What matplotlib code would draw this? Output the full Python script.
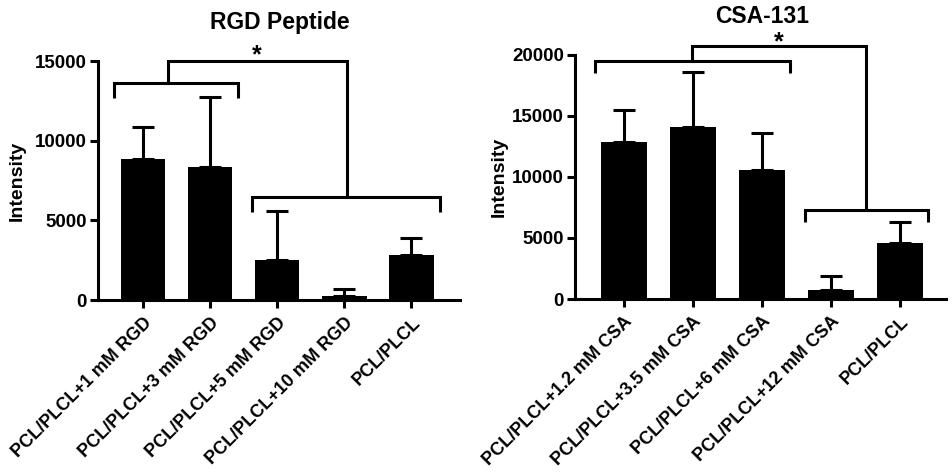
import matplotlib.pyplot as plt
import numpy as np

plt.rcParams['font.family'] = ['Liberation Sans', 'DejaVu Sans']
plt.rcParams['font.weight'] = 'bold'

rgd_labels = ["PCL/PLCL+1 mM RGD", "PCL/PLCL+3 mM RGD", "PCL/PLCL+5 mM RGD",
              "PCL/PLCL+10 mM RGD", "PCL/PLCL"]
rgd_mean = [8850, 8330, 2510, 270, 2825]
rgd_err = [2030, 4430, 3100, 400, 1045]

csa_labels = ["PCL/PLCL+1.2 mM CSA", "PCL/PLCL+3.5 mM CSA", "PCL/PLCL+6 mM CSA",
              "PCL/PLCL+12 mM CSA", "PCL/PLCL"]
csa_mean = [12870, 14090, 10560, 760, 4620]
csa_err = [2580, 4470, 3040, 1120, 1720]

fig = plt.figure(figsize=(9.52, 4.74), dpi=100)
LW = 2.2


def bracket(ax, x0, x1, y, leg):
    ax.plot([x0, x0, x1, x1], [y - leg, y, y, y - leg], color='black', lw=LW,
            clip_on=False, solid_capstyle='butt', solid_joinstyle='miter')


def panel(rect, labels, mean, err, ymax, step):
    ax = fig.add_axes(rect)
    x = np.arange(len(labels))
    ax.bar(x, mean, width=0.66, color='black')
    ax.errorbar(x, mean, yerr=[np.zeros(len(err)), err], fmt='none',
                ecolor='black', elinewidth=LW, capsize=8, capthick=LW)
    ax.set_ylim(0, ymax)
    ax.set_yticks(np.arange(0, ymax + 1, step))
    ax.set_xticks(x)
    ax.set_xticklabels(labels, rotation=45, ha='right', rotation_mode='anchor',
                       fontsize=13, fontweight='bold')
    ax.tick_params(axis='both', width=LW, length=6, labelsize=13.5)
    ax.tick_params(axis='x', pad=4, labelsize=13)
    ax.tick_params(axis='y', pad=2)
    for s in ['top', 'right']:
        ax.spines[s].set_visible(False)
    for s in ['left', 'bottom']:
        ax.spines[s].set_linewidth(LW)
    ax.set_ylabel("Intensity", fontsize=14, fontweight='bold')
    return ax


ax1 = panel([0.103, 0.367, 0.380, 0.504], rgd_labels, rgd_mean, rgd_err, 15000, 5000)
ax1.set_xlim(-0.67, 4.72)
ax1.yaxis.set_label_coords(-0.20, 0.5)
bracket(ax1, -0.43, 1.42, 13640, 940)
bracket(ax1, 1.63, 4.42, 6450, 930)
ax1.plot([0.37, 0.37, 3.04, 3.04], [13640, 15040, 15040, 6450], color='black',
         lw=LW, clip_on=False, solid_joinstyle='miter')
ax1.text(1.70, 14940, "*", ha='center', va='baseline', fontsize=18, fontweight='bold')
fig.text(0.294, 0.953, "RGD Peptide", ha='center', va='center', fontsize=16.5, fontweight='bold')

ax2 = panel([0.604, 0.369, 0.390, 0.516], csa_labels, csa_mean, csa_err, 20000, 5000)
ax2.set_xlim(-0.71, 4.67)
ax2.yaxis.set_label_coords(-0.18, 0.5)
bracket(ax2, -0.42, 2.41, 19450, 950)
bracket(ax2, 2.62, 4.41, 7290, 950)
ax2.plot([0.99, 0.99, 3.50, 3.50], [19450, 20730, 20730, 7290], color='black',
         lw=LW, clip_on=False, solid_joinstyle='miter')
ax2.text(2.24, 20430, "*", ha='center', va='baseline', fontsize=18, fontweight='bold')
fig.text(0.801, 0.966, "CSA-131", ha='center', va='center', fontsize=16.5, fontweight='bold')

fig.savefig("out.png", dpi=100)
